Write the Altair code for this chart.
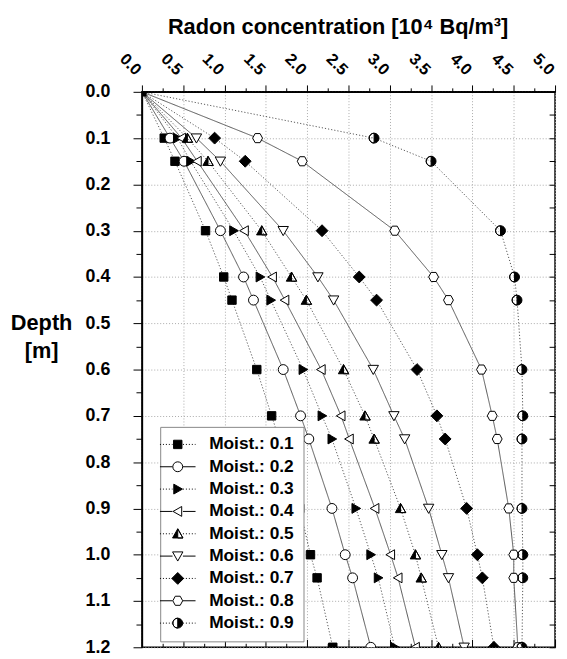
import altair as alt
import pandas as pd

# ---------------- data ----------------
depths = [0.0, 0.1, 0.15, 0.3, 0.4, 0.45, 0.6, 0.7, 0.75, 0.9, 1.0, 1.05, 1.2]
moist_01 = [0.0, 0.27, 0.40, 0.77, 0.99, 1.09, 1.39, 1.57, 1.66, 1.91, 2.04, 2.12, 2.31]
moist_02 = [0.0, 0.34, 0.51, 0.95, 1.23, 1.35, 1.71, 1.92, 2.02, 2.30, 2.46, 2.55, 2.77]
moist_03 = [0.0, 0.43, 0.59, 1.11, 1.43, 1.56, 1.95, 2.18, 2.30, 2.59, 2.77, 2.86, 3.06]
moist_04 = [0.0, 0.48, 0.67, 1.24, 1.58, 1.73, 2.17, 2.41, 2.51, 2.82, 3.01, 3.10, 3.31]
moist_05 = [0.0, 0.55, 0.80, 1.45, 1.81, 1.99, 2.44, 2.70, 2.81, 3.13, 3.31, 3.38, 3.59]
moist_06 = [0.0, 0.66, 0.95, 1.71, 2.13, 2.32, 2.80, 3.05, 3.18, 3.47, 3.63, 3.71, 3.90]
moist_07 = [0.0, 0.88, 1.25, 2.18, 2.63, 2.84, 3.33, 3.57, 3.67, 3.93, 4.06, 4.12, 4.26]
moist_08 = [0.0, 1.40, 1.94, 3.06, 3.53, 3.71, 4.11, 4.24, 4.30, 4.44, 4.50, 4.50, 4.55]
moist_09 = [0.0, 2.81, 3.50, 4.34, 4.51, 4.54, 4.60, 4.61, 4.60, 4.60, 4.61, 4.61, 4.60]

series_names = ["Moist.: 0.1", "Moist.: 0.2", "Moist.: 0.3", "Moist.: 0.4", "Moist.: 0.5",
                "Moist.: 0.6", "Moist.: 0.7", "Moist.: 0.8", "Moist.: 0.9"]
series_values = [moist_01, moist_02, moist_03, moist_04, moist_05,
                 moist_06, moist_07, moist_08, moist_09]

x_title = "Radon concentration [10\u2074 Bq/m\u00b3]"
y_title = ["Depth", "[m]"]

rows = []
for name, vals in zip(series_names, series_values):
    for d, v in zip(depths, vals):
        rows.append({"series": name, "leg": name, "depth": d, "conc": v})
df = pd.DataFrame(rows)

# ---------------- marker glyphs ----------------
m_square = "M-0.85,-0.85L0.85,-0.85L0.85,0.85L-0.85,0.85Z"
m_circle = "M-1,0A1,1,0,1,0,1,0A1,1,0,1,0,-1,0Z"
m_right = "M-0.8,-1L0.95,0L-0.8,1Z"
m_left = "M0.8,-1L-0.95,0L0.8,1Z"
m_halftri = "M0,-1L1.05,0.85L-1.05,0.85Z M0,-1L0,0.85L1.05,0.85Z"
m_down = "M0,1L1.05,-0.85L-1.05,-0.85Z"
m_diamond = "M0,-1.2L1.2,0L0,1.2L-1.2,0Z"
m_hex = "M-1,0L-0.5,-0.92L0.5,-0.92L1,0L0.5,0.92L-0.5,0.92Z"
m_halfcirc = "M0,-1A1,1,0,1,1,0,1A1,1,0,1,1,0,-1Z M0,-1A1,1,0,0,0,0,1Z"
markers = [m_square, m_circle, m_right, m_left, m_halftri, m_down, m_diamond, m_hex, m_halfcirc]
fills = ["black", "white", "black", "white", "black", "white", "black", "white", "black"]
strokes = ["black"] * 9
solid = [False, True, False, True, False, True, False, True, False]
dashes = [[1, 0] if s else [1.2, 2] for s in solid]


def seg(a, b, dotted):
    if not dotted:
        return f"M{a},0L{b},0"
    out = []
    x = a
    while x < b:
        out.append(f"M{x:.2f},0L{min(x + 0.2, b):.2f},0")
        x += 0.6
    return "".join(out)


legend_paths = []
for m, s in zip(markers, solid):
    legend_paths.append(m + " " + seg(-3.6, -1.05, not s) + seg(1.05, 3.6, not s))

# ---------------- axes ----------------
x_vals = [round(i * 0.25, 2) for i in range(21)]
y_vals = [round(i * 0.05, 2) for i in range(25)]
x_major = "abs(datum.value*2 - round(datum.value*2)) < 0.000001"
y_major = "abs(datum.value*10 - round(datum.value*10)) < 0.000001"

top_axis = alt.Axis(
    orient="top", values=x_vals,
    labelExpr=f"{x_major} ? format(datum.value, '.1f') : ''",
    labelAngle=45, labelAlign="right", labelBaseline="middle",
    labelFontSize=16.5, labelFontWeight="bold", labelColor="black", labelPadding=13,
    labelOffset=-4,
    labelOverlap=False, labelFlush=False, labelBound=False,
    tickSize={"condition": {"test": x_major, "value": 7}, "value": 4},
    tickColor="black", tickWidth=1,
    domainColor="black", domainWidth=1.5,
    grid=True, gridDash=[1, 2], gridColor="#aaaaaa",
    gridOpacity={"condition": {"test": x_major, "value": 1}, "value": 0},
    title=x_title, titleX=198, titleY=-59, titleAlign="center",
    titleBaseline="alphabetic", titleAngle=0, titleFontSize=22,
    titleFontWeight="bold", titleColor="black",
)
left_axis = alt.Axis(
    orient="left", values=y_vals,
    labelExpr=f"{y_major} ? format(datum.value, '.1f') : ''",
    labelFontSize=18, labelFontWeight="bold", labelColor="black", labelPadding=23.5,
    labelOverlap=False, labelFlush=False, labelBound=False,
    tickSize={"condition": {"test": y_major, "value": 9}, "value": 6},
    tickColor="black", tickWidth=1,
    domainColor="black", domainWidth=1.5,
    grid=True, gridDash=[1, 2], gridColor="#aaaaaa",
    gridOpacity={"condition": {"test": y_major, "value": 1}, "value": 0},
    title=y_title, titleX=-102, titleY=240, titleAlign="center",
    titleBaseline="alphabetic", titleAngle=0, titleFontSize=22,
    titleFontWeight="bold", titleColor="black", titleLineHeight=29,
)
bottom_major = alt.Axis(orient="bottom", values=[v for v in x_vals if (v * 2) % 1 == 0],
                        labels=False, domain=False, grid=False, tickSize=8, offset=-8,
                        tickColor="black", tickWidth=1, title=None)
bottom_minor = alt.Axis(orient="bottom", values=[v for v in x_vals if (v * 2) % 1 != 0],
                        labels=False, domain=False, grid=False, tickSize=4, offset=-4,
                        tickColor="black", tickWidth=1, title=None)
right_axis = alt.Axis(orient="right", values=y_vals, labels=False, domain=False, grid=False,
                      tickSize=6, offset=-6, tickColor="black", tickWidth=1, title=None)

x_scale = alt.Scale(domain=[0, 5], nice=False, zero=False)
y_scale = alt.Scale(domain=[0, 1.2], nice=False, zero=False, reverse=True)

base = alt.Chart(df)

lines = base.mark_line(clip=True, stroke="#444444", strokeWidth=0.9).encode(
    x=alt.X("conc:Q", scale=x_scale, axis=top_axis),
    y=alt.Y("depth:Q", scale=y_scale, axis=left_axis),
    detail="series:N",
    order=alt.Order("depth:Q"),
    strokeDash=alt.StrokeDash("series:N", scale=alt.Scale(domain=series_names, range=dashes),
                              legend=None),
)

points = base.transform_filter(
    "datum.depth > 0 || datum.series == 'Moist.: 0.1'"
).mark_point(clip=True, size=100, opacity=1, stroke="black", strokeWidth=1, filled=True).encode(
    x=alt.X("conc:Q", scale=x_scale, axis=None),
    y=alt.Y("depth:Q", scale=y_scale, axis=None),
    shape=alt.Shape("series:N", scale=alt.Scale(domain=series_names, range=markers), legend=None),
    fill=alt.Fill("series:N", scale=alt.Scale(domain=series_names, range=fills), legend=None),
)

leg = alt.Legend(
    title=None, orient="none", legendX=18.5, legendY=339, padding=9,
    fillColor="white", strokeColor="#888888", symbolSize=100, symbolStrokeWidth=1,
    labelFontSize=17.5, labelFontWeight="bold",
    labelColor="black", labelOffset=23, rowPadding=3.6, labelLimit=300,
)
legend_layer = base.transform_filter("datum.depth < 0").mark_point(
    size=100, opacity=1, strokeWidth=1, filled=True
).encode(
    x=alt.X("conc:Q", scale=x_scale, axis=None),
    y=alt.Y("depth:Q", scale=y_scale, axis=None),
    shape=alt.Shape("leg:N", scale=alt.Scale(domain=series_names, range=legend_paths), legend=leg),
    fill=alt.Fill("leg:N", scale=alt.Scale(domain=series_names, range=fills), legend=leg),
    stroke=alt.Stroke("leg:N", scale=alt.Scale(domain=series_names, range=strokes), legend=leg),
)

frame1 = base.transform_filter("datum.depth < 0").mark_point(opacity=0).encode(
    x=alt.X("conc:Q", scale=x_scale, axis=bottom_major),
    y=alt.Y("depth:Q", scale=y_scale, axis=right_axis),
)
frame2 = base.transform_filter("datum.depth < 0").mark_point(opacity=0).encode(
    x=alt.X("conc:Q", scale=x_scale, axis=bottom_minor),
    y=alt.Y("depth:Q", scale=y_scale, axis=None),
)

chart = alt.layer(lines, points, legend_layer, frame1, frame2).resolve_scale(
    shape="independent", fill="independent", stroke="independent"
).resolve_axis(
    x="independent", y="independent"
).properties(
    width=418, height=562,
    padding={"left": 135.5, "top": 81, "right": 4, "bottom": 5},
    autosize=alt.AutoSizeParams(type="none"),
).configure(
    font="Liberation Sans",
).configure_view(
    stroke="black", strokeWidth=1.5,
)

chart.save("out.html", embed_options={"renderer": "svg", "actions": False})
